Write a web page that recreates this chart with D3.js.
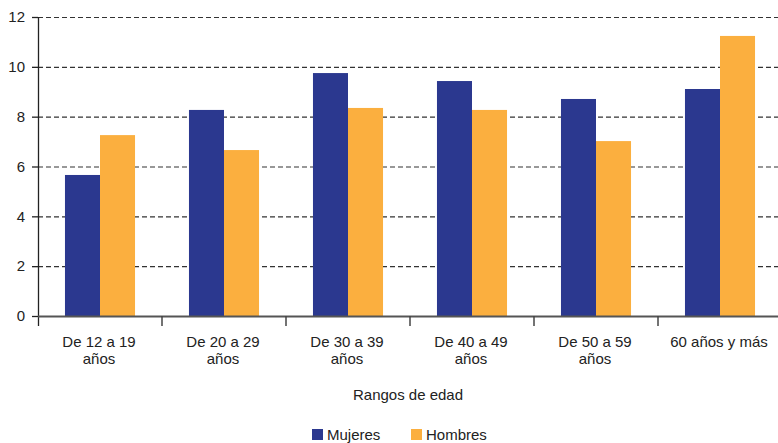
<!DOCTYPE html>
<html lang="es">
<head>
  <meta charset="UTF-8" />
  <title>Rangos de edad</title>
  <style>
    body { margin: 0; background: #fff; }
    svg text { font-family: "Liberation Sans", Arial, sans-serif; fill: #222; }
  </style>
</head>
<body>
  <svg id="chart"></svg>

  <script src="https://d3js.org/d3.v7.min.js"></script>
  <script>
    // data
    const categories = ["De 12 a 19 años", "De 20 a 29 años", "De 30 a 39 años", "De 40 a 49 años", "De 50 a 59 años", "60 años y más"];
    const categoryLines = [["De 12 a 19", "años"], ["De 20 a 29", "años"], ["De 30 a 39", "años"], ["De 40 a 49", "años"], ["De 50 a 59", "años"], ["60 años y más"]];
    const series = ["Mujeres", "Hombres"];
    const mujeres = [5.66, 8.27, 9.75, 9.43, 8.71, 9.11];
    const hombres = [7.26, 6.66, 8.35, 8.27, 7.02, 11.24];
    const yTicks = [0, 2, 4, 6, 8, 10, 12];
    const colors = ["#2b388f", "#fbaf3f"];

    const W = 778, H = 443;
    const plotLeft = 38, plotTop = 17, plotBottom = 316, plotRight = 782;
    const fontSize = 15;

    const svg = d3.select("#chart").attr("width", W).attr("height", H);

    const x0 = d3.scaleBand().domain(categories).range([plotLeft, plotRight]);
    const x1 = d3.scaleBand().domain(series).range([0, x0.bandwidth()]).paddingOuter(0.77);
    const y = d3.scaleLinear().domain([0, 12]).range([plotBottom, plotTop]);
    const color = d3.scaleOrdinal().domain(series).range(colors);

    // dashed grid
    svg.append("g")
      .selectAll("line")
      .data(yTicks.filter(d => d > 0))
      .join("line")
      .attr("x1", plotLeft).attr("x2", W)
      .attr("y1", d => y(d) + 0.5).attr("y2", d => y(d) + 0.5)
      .attr("stroke", "#333")
      .attr("stroke-width", 1.2)
      .attr("stroke-dasharray", "5,3");

    // bars
    const rows = categories.map((c, i) => ({ cat: c, values: [mujeres[i], hombres[i]] }));
    svg.append("g")
      .selectAll("g")
      .data(rows)
      .join("g")
      .attr("transform", d => `translate(${x0(d.cat)},0)`)
      .selectAll("rect")
      .data(d => d.values.map((v, j) => ({ key: series[j], v })))
      .join("rect")
      .attr("x", d => x1(d.key))
      .attr("width", x1.bandwidth())
      .attr("y", d => y(d.v))
      .attr("height", d => y(0) - y(d.v))
      .attr("fill", d => color(d.key));

    // y axis
    const yAxis = svg.append("g")
      .attr("transform", `translate(${plotLeft},0)`)
      .call(d3.axisLeft(y).tickValues(yTicks).tickSize(6).tickPadding(7));
    yAxis.select(".domain").remove();
    yAxis.selectAll(".tick line").attr("stroke", "#222").attr("stroke-width", 1.3);
    yAxis.selectAll("text").attr("font-size", fontSize);
    svg.append("line")
      .attr("x1", plotLeft + 0.5).attr("x2", plotLeft + 0.5)
      .attr("y1", plotTop).attr("y2", plotBottom + 10)
      .attr("stroke", "#222").attr("stroke-width", 1.3);

    // x axis line and category boundary ticks
    svg.append("line")
      .attr("x1", plotLeft).attr("x2", W)
      .attr("y1", plotBottom + 0.5).attr("y2", plotBottom + 0.5)
      .attr("stroke", "#555").attr("stroke-width", 2);
    svg.append("g")
      .selectAll("line")
      .data(categories.slice(1))
      .join("line")
      .attr("x1", d => x0(d)).attr("x2", d => x0(d))
      .attr("y1", plotBottom).attr("y2", plotBottom + 10)
      .attr("stroke", "#444").attr("stroke-width", 1.5);

    // category labels
    svg.append("g")
      .selectAll("text")
      .data(categories)
      .join("text")
      .attr("text-anchor", "middle")
      .attr("font-size", fontSize)
      .attr("transform", d => `translate(${x0(d) + x0.bandwidth() / 2 - 1},347)`)
      .each(function (d, i) {
        d3.select(this).selectAll("tspan")
          .data(categoryLines[i])
          .join("tspan")
          .attr("x", 0)
          .attr("y", (t, k) => k * 17)
          .text(t => t);
      });

    svg.append("text")
      .attr("x", 408).attr("y", 400)
      .attr("text-anchor", "middle")
      .attr("font-size", fontSize)
      .text("Rangos de edad");

    // legend
    const legendX = [312, 411];
    const legend = svg.append("g")
      .selectAll("g")
      .data(series)
      .join("g")
      .attr("transform", (d, i) => `translate(${legendX[i]},429)`);
    legend.append("rect")
      .attr("width", 11).attr("height", 11)
      .attr("fill", d => color(d));
    legend.append("text")
      .attr("x", 15).attr("y", 11)
      .attr("font-size", fontSize)
      .text(d => d);
  </script>
</body>
</html>
